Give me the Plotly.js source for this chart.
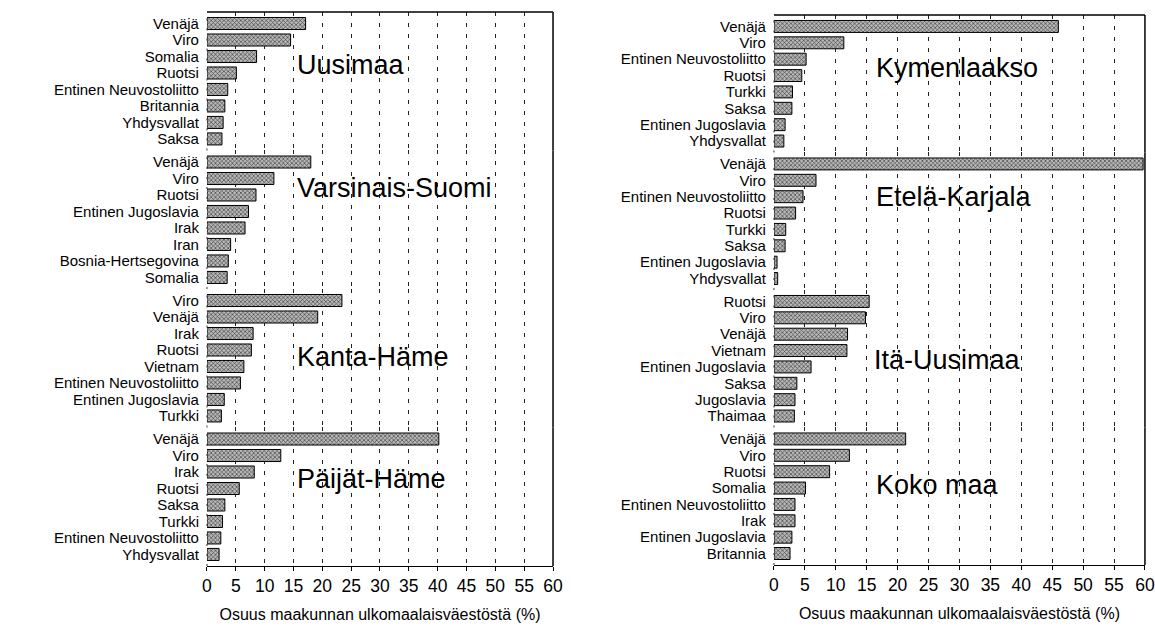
<!DOCTYPE html>
<html>
<head>
<meta charset="utf-8">
<script src="https://cdn.plot.ly/plotly-3.0.1.min.js"></script>
<style>html,body{margin:0;padding:0;background:#fff;}#chart{width:1155px;height:630px;}</style>
</head>
<body>
<div id="chart"></div>
<script>
// ---- Data ----
const uusimaaCountries = ["Venäjä","Viro","Somalia","Ruotsi","Entinen Neuvostoliitto","Britannia","Yhdysvallat","Saksa"];
const uusimaaValues    = [17.1, 14.5, 8.6, 5.1, 3.6, 3.1, 2.8, 2.6];

const varsinaisCountries = ["Venäjä","Viro","Ruotsi","Entinen Jugoslavia","Irak","Iran","Bosnia-Hertsegovina","Somalia"];
const varsinaisValues    = [18.0, 11.6, 8.5, 7.2, 6.6, 4.1, 3.7, 3.5];

const kantaCountries = ["Viro","Venäjä","Irak","Ruotsi","Vietnam","Entinen Neuvostoliitto","Entinen Jugoslavia","Turkki"];
const kantaValues    = [23.4, 19.2, 8.0, 7.7, 6.4, 5.8, 3.0, 2.5];

const paijatCountries = ["Venäjä","Viro","Irak","Ruotsi","Saksa","Turkki","Entinen Neuvostoliitto","Yhdysvallat"];
const paijatValues    = [40.2, 12.8, 8.2, 5.6, 3.1, 2.7, 2.4, 2.1];

const kymenCountries = ["Venäjä","Viro","Entinen Neuvostoliitto","Ruotsi","Turkki","Saksa","Entinen Jugoslavia","Yhdysvallat"];
const kymenValues    = [46.0, 11.3, 5.2, 4.5, 3.0, 2.9, 1.8, 1.6];

const etelaCountries = ["Venäjä","Viro","Entinen Neuvostoliitto","Ruotsi","Turkki","Saksa","Entinen Jugoslavia","Yhdysvallat"];
const etelaValues    = [59.7, 6.8, 4.7, 3.5, 1.9, 1.8, 0.5, 0.6];

const itaCountries = ["Ruotsi","Viro","Venäjä","Vietnam","Entinen Jugoslavia","Saksa","Jugoslavia","Thaimaa"];
const itaValues    = [15.4, 14.8, 11.9, 11.8, 6.0, 3.7, 3.4, 3.3];

const kokoCountries = ["Venäjä","Viro","Ruotsi","Somalia","Entinen Neuvostoliitto","Irak","Entinen Jugoslavia","Britannia"];
const kokoValues    = [21.3, 12.2, 9.0, 5.1, 3.4, 3.4, 2.9, 2.6];

const panelTitles = ["Uusimaa","Varsinais-Suomi","Kanta-Häme","Päijät-Häme","Kymenlaakso","Etelä-Karjala","Itä-Uusimaa","Koko maa"];
const xTickValues = [0,5,10,15,20,25,30,35,40,45,50,55,60];
const xAxisTitle = "Osuus maakunnan ulkomaalaisväestöstä (%)";

// ---- Build ----
const FONT = "Liberation Sans, Arial, Helvetica, sans-serif";
const panels = [
  [uusimaaCountries, uusimaaValues],
  [varsinaisCountries, varsinaisValues],
  [kantaCountries, kantaValues],
  [paijatCountries, paijatValues],
  [kymenCountries, kymenValues],
  [etelaCountries, etelaValues],
  [itaCountries, itaValues],
  [kokoCountries, kokoValues]
];

const leftTop = 0.981, leftBot = 0.1016;
const rightTop = 0.9762, rightBot = 0.1032;
const titleY = [0.62, 0.73, 0.51, 0.63, 0.615, 0.675, 0.49, 0.58];
const titleX = [0.255, 0.255, 0.255, 0.255, 0.27, 0.27, 0.265, 0.27];

const traces = [];
const layout = {
  width: 1155, height: 630,
  margin: {l:0, r:0, t:0, b:0},
  paper_bgcolor: "#fff", plot_bgcolor: "#fff",
  showlegend: false,
  bargap: 0.27,
  font: {family: FONT, color: "#000"},
  annotations: [],
  shapes: []
};

function xaxisDef(domain, anchor) {
  return {
    domain: domain, anchor: anchor, range: [0,60], autorange: false,
    tickmode: "array", tickvals: xTickValues, ticktext: xTickValues.map(String),
    showgrid: true, gridcolor: "#222", gridwidth: 1, griddash: "4px,7px",
    zeroline: false, showline: true, linecolor: "#000", linewidth: 1.5,
    ticks: "outside", ticklen: 4, tickcolor: "#000",
    tickfont: {size: 17.5, family: FONT, color: "#000"},
    title: {text: xAxisTitle, font: {size: 16, family: FONT, color: "#000"}, standoff: 13}
  };
}
layout.xaxis = xaxisDef([0.1792, 0.4788], "y4");
layout.xaxis2 = xaxisDef([0.6701, 0.9913], "y8");

panels.forEach((p, i) => {
  const left = i < 4;
  const k = left ? i : i - 4;
  const top = left ? leftTop : rightTop, bot = left ? leftBot : rightBot;
  const h = (top - bot) / 4;
  const d1 = top - k * h, d0 = top - (k + 1) * h;
  const yName = i === 0 ? "yaxis" : "yaxis" + (i + 1);
  const yRef = i === 0 ? "y" : "y" + (i + 1);
  const xRef = left ? "x" : "x2";
  layout[yName] = {
    domain: [d0, d1], anchor: xRef, type: "category",
    range: [7.7, -0.7], autorange: false,
    tickmode: "array", tickvals: p[0], ticktext: p[0],
    showgrid: false, zeroline: false, showline: false,
    ticks: "", ticklabelstandoff: 7,
    tickfont: {size: 15, family: FONT, color: "#000"}
  };
  traces.push({
    type: "bar", orientation: "h",
    x: p[1], y: p[0],
    xaxis: xRef, yaxis: yRef,
    marker: {
      color: "#aaaaaa",
      line: {color: "#000", width: 1},
      pattern: {shape: "x", fgcolor: "#444", bgcolor: "#b8b8b8", size: 3, solidity: 0.4}
    },
    hoverinfo: "x+y"
  });
  layout.annotations.push({
    text: panelTitles[i], xref: xRef + " domain", yref: yRef + " domain",
    x: titleX[i], y: titleY[i], xanchor: "left", yanchor: "middle",
    showarrow: false, font: {size: 27, family: FONT, color: "#000"}
  });
  // frame: right edge for every panel, top edge for the top panel, dotted left edge
  layout.shapes.push({type: "line", xref: xRef + " domain", yref: yRef + " domain",
    x0: 1, x1: 1, y0: 0, y1: 1, line: {color: "#000", width: 1.5}});
  layout.shapes.push({type: "line", xref: xRef + " domain", yref: yRef + " domain",
    x0: 0, x1: 0, y0: 0, y1: 1, line: {color: "#333", width: 1, dash: "2px,8px"}});
  if (k === 0) {
    layout.shapes.push({type: "line", xref: xRef + " domain", yref: yRef + " domain",
      x0: 0, x1: 1, y0: 1, y1: 1, line: {color: "#000", width: 1.5}});
  }
});

Plotly.newPlot("chart", traces, layout, {displayModeBar: false, staticPlot: true});
</script>
</body>
</html>
